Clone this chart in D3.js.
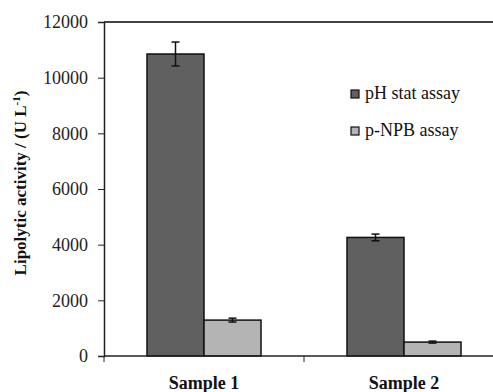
<!DOCTYPE html>
<html>
<head>
<meta charset="utf-8">
<script src="https://cdn.jsdelivr.net/npm/d3@7"></script>
<style>
  body { margin: 0; background: #fff; }
</style>
</head>
<body>
<div id="chart"></div>
<script>
const width = 493, height = 392;
const serif = "'Liberation Serif', 'Times New Roman', Times, 'DejaVu Serif', serif";

const samples = ["Sample 1", "Sample 2"];
const series = ["pH stat assay", "p-NPB assay"];
const phStat = [10850, 4260];
const phStatErr = [430, 120];
const pNpb = [1290, 500];
const pNpbErr = [70, 35];
const yTicks = [0, 2000, 4000, 6000, 8000, 10000, 12000];

const seriesColors = ["#606060", "#b4b4b4"];

const rows = samples.map((s, i) => ({
  sample: s,
  bars: [
    { key: series[0], value: phStat[i], err: phStatErr[i] },
    { key: series[1], value: pNpb[i], err: pNpbErr[i] },
  ],
}));

const svg = d3.select("#chart")
  .append("svg")
  .attr("width", width)
  .attr("height", height);

// plot area runs past the right edge (cropped in the original)
const x = d3.scaleBand().domain(samples).range([104, 504]).padding(0);
const xInner = d3.scaleBand().domain(series).range([43, 157]).padding(0);
const y = d3.scaleLinear().domain([0, 12000]).range([356, 22]);

// top border
svg.append("line")
  .attr("x1", 104).attr("x2", width)
  .attr("y1", y(12000)).attr("y2", y(12000))
  .attr("stroke", "#444").attr("stroke-width", 2);

// bars
const groups = svg.selectAll("g.sample")
  .data(rows)
  .enter()
  .append("g")
  .attr("class", "sample")
  .attr("transform", (d) => `translate(${x(d.sample)},0)`);

groups.selectAll("rect")
  .data((d) => d.bars)
  .enter()
  .append("rect")
  .attr("x", (d) => xInner(d.key))
  .attr("width", xInner.bandwidth())
  .attr("y", (d) => y(d.value))
  .attr("height", (d) => y(0) - y(d.value))
  .attr("fill", (d, i) => seriesColors[i])
  .attr("stroke", "#111")
  .attr("stroke-width", 1.5);

// error bars
const errs = groups.selectAll("g.err")
  .data((d) => d.bars)
  .enter()
  .append("g")
  .attr("class", "err")
  .attr("stroke", "#111")
  .attr("stroke-width", 1.5);

errs.append("line")
  .attr("x1", (d) => xInner(d.key) + xInner.bandwidth() / 2)
  .attr("x2", (d) => xInner(d.key) + xInner.bandwidth() / 2)
  .attr("y1", (d) => y(d.value + d.err))
  .attr("y2", (d) => y(d.value - d.err));

errs.selectAll("line.cap")
  .data((d) => [d.value + d.err, d.value - d.err].map((v) => ({ v, d })))
  .enter()
  .append("line")
  .attr("class", "cap")
  .attr("x1", (c) => xInner(c.d.key) + xInner.bandwidth() / 2 - 4)
  .attr("x2", (c) => xInner(c.d.key) + xInner.bandwidth() / 2 + 4)
  .attr("y1", (c) => y(c.v))
  .attr("y2", (c) => y(c.v));

// y axis
const yAxis = svg.append("g")
  .attr("transform", "translate(104,0)")
  .call(d3.axisLeft(y).tickValues(yTicks).tickSize(6).tickPadding(10).tickFormat(d3.format("d")));
yAxis.attr("font-family", null).attr("font-size", null);
yAxis.select(".domain").attr("stroke", "#222").attr("stroke-width", 1.5);
yAxis.selectAll(".tick line").attr("stroke", "#222");
yAxis.selectAll(".tick text")
  .style("font-family", serif)
  .style("font-size", "18px")
  .attr("fill", "#222");

// x axis
const xAxis = svg.append("g")
  .attr("transform", `translate(0,${y(0)})`);
xAxis.append("line")
  .attr("x1", 104).attr("x2", width)
  .attr("stroke", "#222").attr("stroke-width", 1.5);
xAxis.selectAll("line.tick")
  .data([x.range()[0], x("Sample 2")])
  .enter()
  .append("line")
  .attr("class", "tick")
  .attr("x1", (d) => d).attr("x2", (d) => d)
  .attr("y1", 0).attr("y2", 6)
  .attr("stroke", "#222");
xAxis.selectAll("text")
  .data(samples)
  .enter()
  .append("text")
  .attr("x", (d) => x(d) + x.bandwidth() / 2)
  .attr("y", 33)
  .attr("text-anchor", "middle")
  .style("font-family", serif)
  .style("font-weight", "bold")
  .style("font-size", "18px")
  .attr("fill", "#111")
  .text((d) => d);

// y title
const yTitle = svg.append("text")
  .attr("transform", "translate(26,183) rotate(-90)")
  .attr("text-anchor", "middle")
  .style("font-family", serif)
  .style("font-weight", "bold")
  .style("font-size", "17px")
  .attr("fill", "#111");
yTitle.append("tspan").text("Lipolytic activity / (U L");
yTitle.append("tspan").attr("baseline-shift", "super").style("font-size", "11px").text("-1");
yTitle.append("tspan").text(")");

// legend
const legend = svg.selectAll("g.legend")
  .data(series)
  .enter()
  .append("g")
  .attr("class", "legend")
  .attr("transform", (d, i) => `translate(355,${94 + i * 37})`);
legend.append("rect")
  .attr("x", -4).attr("y", -4)
  .attr("width", 8).attr("height", 8)
  .attr("fill", (d, i) => seriesColors[i])
  .attr("stroke", "#111")
  .attr("stroke-width", 1.2);
legend.append("text")
  .attr("x", 10).attr("y", 5)
  .style("font-family", serif)
  .style("font-size", "18px")
  .attr("fill", "#111")
  .text((d) => d);
</script>
</body>
</html>
